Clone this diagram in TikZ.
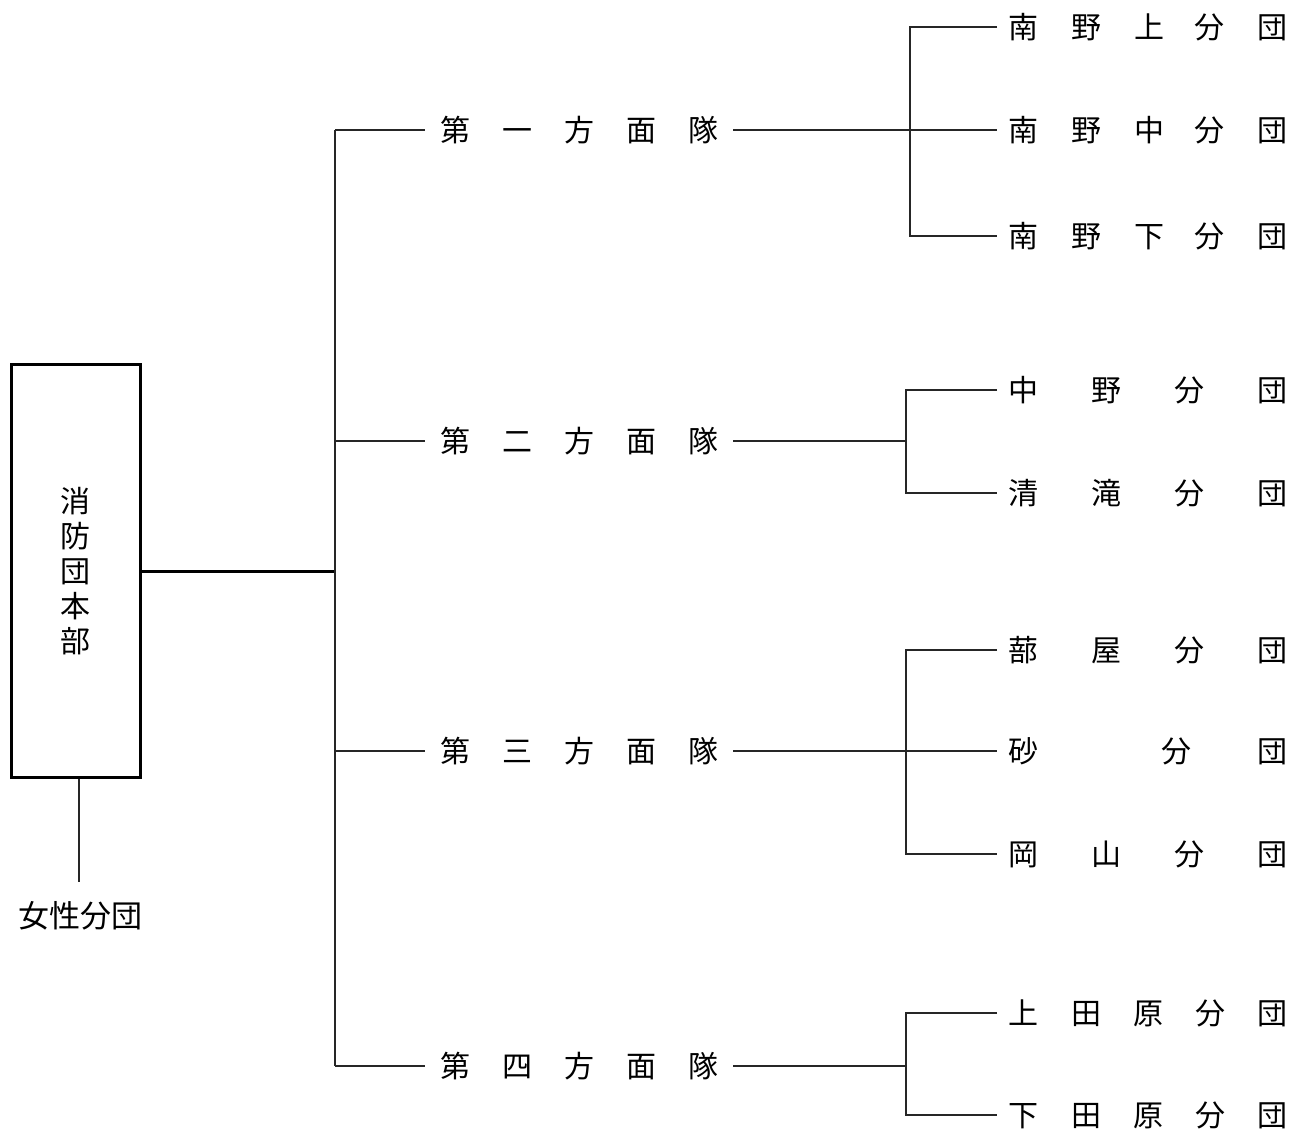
\documentclass[tikz,border=0pt]{standalone}
\usepackage{fontspec}
\newfontfamily\jp{Noto Sans CJK JP}
\newcommand{\gp}[1]{\hspace{#1pt}}
\tikzset{
  every picture/.style={x=1pt,y=-1pt},
  conn/.style={line width=1.3pt,black!85},
  thickconn/.style={line width=3pt,black},
  lvtwo/.style={anchor=west,inner xsep=15pt,inner ysep=0pt,text height=26.4pt,text depth=3.6pt,font=\jp\fontsize{30pt}{30pt}\selectfont},
  lvthree/.style={anchor=west,inner xsep=11pt,inner ysep=0pt,text height=26.4pt,text depth=3.6pt,font=\jp\fontsize{30pt}{30pt}\selectfont},
  hqbox/.style={draw,line width=3pt,minimum width=129pt,minimum height=413pt,inner sep=0pt,align=center,font=\jp\fontsize{30pt}{35pt}\selectfont},
  plain/.style={inner sep=0pt,text height=27.3pt,text depth=3.7pt,font=\jp\fontsize{31pt}{31pt}\selectfont}
}
\begin{document}
\begin{tikzpicture}
\useasboundingbox (0,0) rectangle (1301,1133);

% headquarters
\node[hqbox] (hq) at (75.5,571) {消\\防\\団\\本\\部};
\node[plain] (w) at (80,916) {女性分団};
\coordinate (wtop) at (79,882);
\draw[conn] (hq.south -| wtop) -- (wtop);

% trunk
\coordinate (jm) at (335,571);
\coordinate (t1) at (335,130);
\coordinate (t2) at (335,441);
\coordinate (t3) at (335,751);
\coordinate (t4) at (335,1066);
\draw[thickconn] (hq.east |- jm) -- (jm);
\draw[conn] (t1) -- (t4);

% level 2
\node[lvtwo] (d1) at (425,130) {第\gp{32}一\gp{32}方\gp{32}面\gp{32}隊};
\node[lvtwo] (d2) at (425,441) {第\gp{32}二\gp{32}方\gp{32}面\gp{32}隊};
\node[lvtwo] (d3) at (425,751) {第\gp{32}三\gp{32}方\gp{32}面\gp{32}隊};
\node[lvtwo] (d4) at (425,1066) {第\gp{32}四\gp{32}方\gp{32}面\gp{32}隊};
\foreach \i in {1,2,3,4} {\draw[conn] (t\i) -- (d\i.west);}

% level 3, group 1
\node[lvthree] (c11) at (997,27) {南\gp{33}野\gp{33}上\gp{30}分\gp{33}団};
\node[lvthree] (c12) at (997,130) {南\gp{33}野\gp{33}中\gp{30}分\gp{33}団};
\node[lvthree] (c13) at (997,236) {南\gp{33}野\gp{33}下\gp{30}分\gp{33}団};
\coordinate (j1) at (910,130);
\draw[conn] (d1.east) -- (c12.west);
\draw[conn] (c11.west) -- (j1 |- c11.west) -- (j1 |- c13.west) -- (c13.west);

% group 2
\node[lvthree] (c21) at (997,390) {中\gp{53}野\gp{53}分\gp{53}団};
\node[lvthree] (c22) at (997,493) {清\gp{53}滝\gp{53}分\gp{53}団};
\coordinate (j2) at (906,441);
\draw[conn] (d2.east) -- (j2);
\draw[conn] (c21.west) -- (j2 |- c21.west) -- (j2 |- c22.west) -- (c22.west);

% group 3
\node[lvthree] (c31) at (997,650) {蔀\gp{53}屋\gp{53}分\gp{53}団};
\node[lvthree] (c32) at (997,751) {砂\gp{123}分\gp{66}団};
\node[lvthree] (c33) at (997,854) {岡\gp{53}山\gp{53}分\gp{53}団};
\coordinate (j3) at (906,751);
\draw[conn] (d3.east) -- (c32.west);
\draw[conn] (c31.west) -- (j3 |- c31.west) -- (j3 |- c33.west) -- (c33.west);

% group 4
\node[lvthree] (c41) at (997,1013) {上\gp{33}田\gp{32}原\gp{32}分\gp{32}団};
\node[lvthree] (c42) at (997,1115) {下\gp{33}田\gp{32}原\gp{32}分\gp{32}団};
\coordinate (j4) at (906,1066);
\draw[conn] (d4.east) -- (j4);
\draw[conn] (c41.west) -- (j4 |- c41.west) -- (j4 |- c42.west) -- (c42.west);
\end{tikzpicture}
\end{document}
